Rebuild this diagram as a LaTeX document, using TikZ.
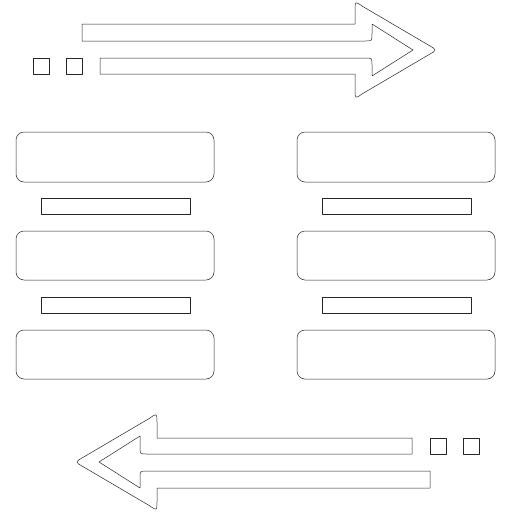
\documentclass[tikz,border=0pt]{standalone}
\begin{document}
\begin{tikzpicture}[x=1pt,y=-1pt,
  icon/.style={draw=black!85,line width=0.5pt,fill=white,line join=round},
  bigbox/.style={icon,rounded corners=8pt},
  thinbar/.style={icon}]
\useasboundingbox[fill=white] (0,0) rectangle (512,512);
% top arrow (and its 180-degree copy at the bottom)
\foreach \r in {0,180}{
\begin{scope}[rotate around={\r:(256,256)}]
\draw[icon] (82,24) -- (355,24) -- (355,10) .. controls (355,1) .. (362.8,6.5)
  -- (429.2,45.5) .. controls (437,50) .. (429.2,54.5)
  -- (362.8,93.5) .. controls (355,99) .. (355,90)
  -- (355,74) -- (100,74) -- (100,58) -- (365,58) .. controls (372,58) .. (372,65)
  -- (372,76) -- (413,50) -- (372,24) -- (372,34) .. controls (372,41) .. (365,41)
  -- (82,41) -- cycle;
\draw[icon] (33,58) rectangle (49,74);
\draw[icon] (66,58) rectangle (82,74);
\end{scope}}
% columns
\foreach \x in {0,281}{
\draw[bigbox] (16+\x,132) rectangle (214+\x,182);
\draw[bigbox] (16+\x,231) rectangle (214+\x,280);
\draw[bigbox] (16+\x,330) rectangle (214+\x,379);
\draw[thinbar] (41+\x,198) rectangle (190+\x,214);
\draw[thinbar] (41+\x,297) rectangle (190+\x,313);
}
\end{tikzpicture}
\end{document}
